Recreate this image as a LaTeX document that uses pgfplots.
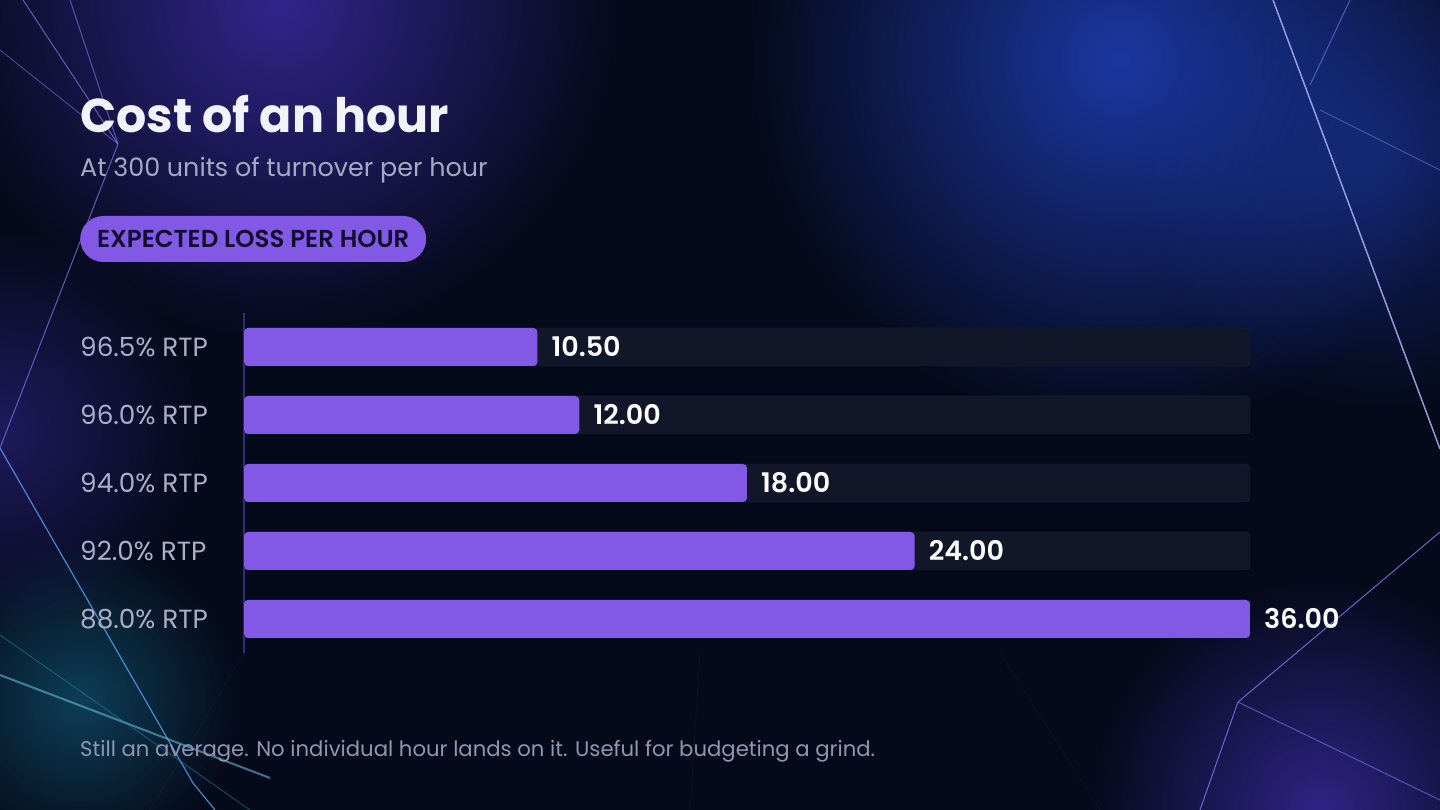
\documentclass[border=0pt]{standalone}
\usepackage{pgfplots}
\pgfplotsset{compat=1.18}
\usepackage{fontspec}
\setmainfont{Poppins}
\newfontfamily\popsemi{Poppins SemiBold}
\usetikzlibrary{fadings}
\tikzfading[name=glow, inner color=transparent!0, outer color=transparent!100]
\definecolor{bg}{HTML}{050A1A}
\definecolor{barc}{HTML}{8259E5}
\definecolor{track}{HTML}{111729}
\definecolor{trackedge}{HTML}{1A2142}
\definecolor{axisc}{HTML}{2B3170}
\definecolor{titlec}{HTML}{F2F3FA}
\definecolor{subc}{HTML}{A3AAC4}
\definecolor{tickc}{HTML}{A9AFC6}
\definecolor{footc}{HTML}{8F96B2}
\definecolor{pilltext}{HTML}{120C2E}
\definecolor{glowblue}{HTML}{1E3CB0}
\definecolor{glowpurple}{HTML}{3A2AA0}
\definecolor{glowcyan}{HTML}{1FA0C8}
\definecolor{linec}{HTML}{7E7CF0}
\begin{document}
\begin{tikzpicture}[x=1pt,y=1pt]
\fill[bg] (0,0) rectangle (1440,810);
\begin{scope}
\clip (0,0) rectangle (1440,810);
% glows
\fill[glowpurple, path fading=glow, fill opacity=0.85] (280,810) circle (340);
\fill[glowblue, path fading=glow, fill opacity=0.9] (1120,750) circle (370);
\fill[glowblue, path fading=glow, fill opacity=0.5] (1380,650) circle (250);
\fill[glowpurple, path fading=glow, fill opacity=0.8] (1320,0) circle (230);
\fill[glowcyan, path fading=glow, fill opacity=0.35] (80,110) circle (160);
\fill[glowpurple, path fading=glow, fill opacity=0.5] (0,380) circle (200);
% decorative lines (left)
\draw[linec, line width=1pt, opacity=0.7] (23,810) -- (118,666);
\draw[linec, line width=1pt, opacity=0.6] (70,810) -- (118,666);
\draw[linec, line width=1pt, opacity=0.5] (0,760) -- (118,666);
\draw[linec, line width=1pt, opacity=0.7] (118,666) -- (0,362);
\draw[linec!70!cyan, line width=1.2pt, opacity=0.8] (0,362) -- (193,27) -- (215,0);
\draw[glowcyan!70!white, line width=2pt, opacity=0.6] (0,135) -- (270,32);
\draw[glowcyan, line width=1pt, opacity=0.4] (0,175) -- (250,0);
% right
\draw[linec!60!white, line width=1.5pt, opacity=0.85] (1273,810) -- (1440,361);
\draw[linec, line width=1pt, opacity=0.6] (1310,725) -- (1350,810);
\draw[linec, line width=1pt, opacity=0.5] (1320,700) -- (1440,640);
\draw[linec, line width=1pt, opacity=0.8] (1238,108) -- (1440,278);
\draw[linec, line width=1pt, opacity=0.8] (1238,108) -- (1200,0);
\draw[linec, line width=1pt, opacity=0.6] (1238,108) -- (1440,10);
% faint floor grid
\draw[white, opacity=0.05] (244,157) -- (150,0);
\draw[white, opacity=0.05] (700,157) -- (690,0);
\draw[white, opacity=0.05] (1000,157) -- (1100,0);
\end{scope}
% texts
\node[anchor=base west, inner sep=0pt, text=titlec, font=\fontsize{47.5}{56}\selectfont\bfseries] at (80,677) {Cost of an hour};
\node[anchor=base west, inner sep=0pt, text=subc, font=\fontsize{25.4}{30}\selectfont] at (80,633) {At 300 units of turnover per hour};
\node[anchor=west, fill=barc, rounded corners=23pt, minimum height=46pt, minimum width=346pt, inner xsep=14pt, inner ysep=0pt, text=pilltext, font=\fontsize{24.5}{28}\selectfont\popsemi] at (80,571) {EXPECTED LOSS PER HOUR};
\node[anchor=base west, inner sep=0pt, text=footc, font=\fontsize{21.2}{25}\selectfont] at (80,53) {Still an average. No individual hour lands on it. Useful for budgeting a grind.};
\begin{axis}[
  at={(244pt,157pt)}, anchor=south west,
  width=1006pt, height=340pt, scale only axis,
  xmin=0, xmax=36, ymin=-0.5, ymax=4.5,
  axis lines*=left,
  x axis line style={draw=none},
  y axis line style={draw=axisc, line width=1.5pt, -},
  xtick=\empty,
  ytick={0,1,2,3,4},
  yticklabels={88.0\% RTP, 92.0\% RTP, 94.0\% RTP, 96.0\% RTP, 96.5\% RTP},
  major tick length=0pt,
  yticklabel style={anchor=west, inner sep=0pt, xshift=-164pt, text=tickc, font=\fontsize{26.3}{30}\selectfont},
  clip=false,
]
\addplot[xbar, bar width=38pt, bar shift=0pt, fill=track, draw=trackedge, rounded corners=4pt] coordinates {(36,0) (36,1) (36,2) (36,3) (36,4)};
\addplot[xbar, bar width=38pt, bar shift=0pt, fill=barc, draw=none, rounded corners=4pt,
  nodes near coords, point meta=x,
  nodes near coords style={anchor=west, inner sep=0pt, xshift=14pt, text=white, font=\fontsize{27}{31}\selectfont\popsemi, /pgf/number format/.cd, fixed, fixed zerofill, precision=2, assume math mode=true}]
  coordinates {(36,0) (24,1) (18,2) (12,3) (10.5,4)};
\end{axis}
\end{tikzpicture}
\end{document}
